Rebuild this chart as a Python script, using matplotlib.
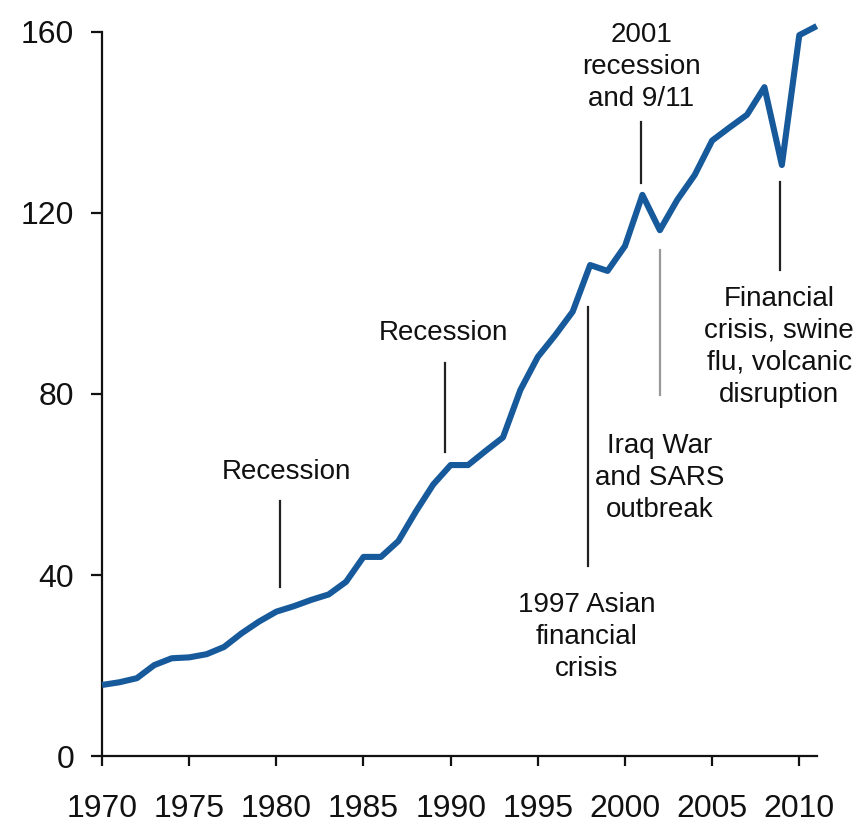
import matplotlib
matplotlib.use("Agg")
import matplotlib.pyplot as plt

plt.rcParams['font.family'] = ['Liberation Sans', 'DejaVu Sans']

years = list(range(1970, 2012))
values = [15.7, 16.3, 17.2, 20.1, 21.6, 21.8, 22.5, 24.1, 27.1, 29.7,
          31.9, 33.1, 34.5, 35.7, 38.5, 44.0, 44.0, 47.5, 54.0, 60.0,
          64.3, 64.3, 67.4, 70.4, 80.9, 88.2, 93.0, 98.2, 108.5, 107.2,
          112.7, 124.0, 116.2, 122.9, 128.4, 136.0, 138.9, 141.7, 147.8, 130.6,
          159.3, 161.3]

x_ticks = [1970, 1975, 1980, 1985, 1990, 1995, 2000, 2005, 2010]
y_ticks = [0, 40, 80, 120, 160]

# annotation: text, text x, text y, line x, line y0, line y1, line colour
annotations = [
    ("Recession", 1980.6, 62.8, 1980.2, 37.3, 56.4, "#222222"),
    ("Recession", 1989.6, 93.5, 1989.7, 67.2, 86.9, "#222222"),
    ("1997 Asian\nfinancial\ncrisis", 1997.8, 26.3, 1997.9, 42.0, 99.2, "#222222"),
    ("Iraq War\nand SARS\noutbreak", 2002.0, 61.5, 2002.0, 79.8, 111.8, "#999999"),
    ("2001\nrecession\nand 9/11", 2000.95, 152.3, 2000.9, 126.6, 140.1, "#222222"),
    ("Financial\ncrisis, swine\nflu, volcanic\ndisruption", 2008.85, 90.4, 2008.9, 107.4, 126.9, "#222222"),
]

fig = plt.figure(figsize=(8.58, 8.24), dpi=100)
ax = fig.add_axes([0.1189, 0.0825, 0.833, 0.8787])

ax.plot(years, values, color="#175a9c", lw=4.4, solid_joinstyle="round",
        solid_capstyle="butt", clip_on=False, zorder=3)

for txt, tx, ty, lx, y0, y1, col in annotations:
    ax.plot([lx, lx], [y0, y1], color=col, lw=1.6, clip_on=False, zorder=2)
    ax.text(tx, ty, txt, ha="center", va="center", fontsize=20,
            color="#111111", linespacing=1.3, multialignment="center")

ax.set_xlim(1970, 2011)
ax.set_ylim(0, 160)
ax.set_xticks(x_ticks)
ax.set_yticks(y_ticks)
ax.set_xticklabels([str(v) for v in x_ticks])
ax.set_yticklabels([str(v) for v in y_ticks])

for s in ["top", "right"]:
    ax.spines[s].set_visible(False)
for s in ["left", "bottom"]:
    ax.spines[s].set_linewidth(1.6)
    ax.spines[s].set_color("#111111")

ax.tick_params(axis="x", direction="out", length=7, width=1.6, pad=20,
               labelsize=23, colors="#111111")
ax.tick_params(axis="y", direction="out", length=8, width=1.6, pad=12,
               labelsize=23, colors="#111111")

fig.savefig("out.png", dpi=100)
